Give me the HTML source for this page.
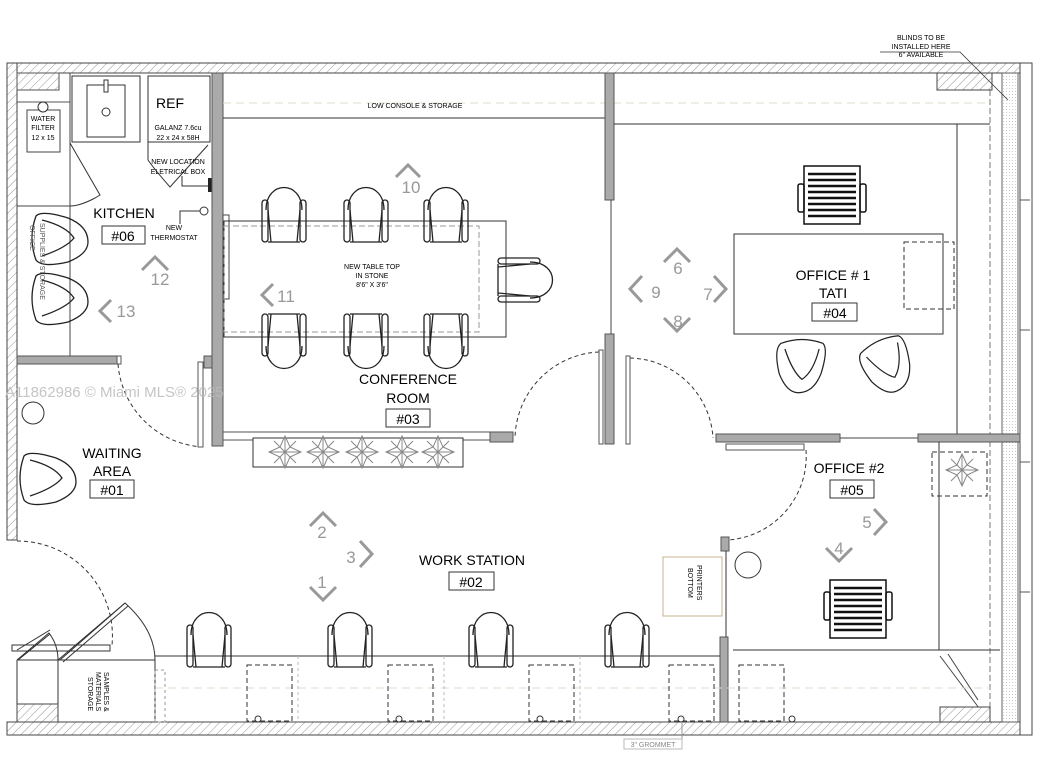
<!DOCTYPE html>
<html><head><meta charset="utf-8"><style>
html,body{margin:0;padding:0;background:#fff}
svg{display:block}
text{font-family:"Liberation Sans",sans-serif}
</style></head><body>
<svg width="1045" height="781" viewBox="0 0 1045 781" xmlns="http://www.w3.org/2000/svg">
<defs>
<pattern id="h" width="6" height="6" patternUnits="userSpaceOnUse" patternTransform="rotate(45)">
<rect width="6" height="6" fill="#fff"/><line x1="0" y1="0" x2="0" y2="6" stroke="#999" stroke-width="1"/></pattern>
<pattern id="d" width="3" height="3" patternUnits="userSpaceOnUse"><rect width="3" height="3" fill="#fff"/><circle cx="1.5" cy="1.5" r="0.5" fill="#bbb"/></pattern>
<g id="ch" fill="none" stroke="#222" stroke-width="1.3">
<path d="M-18 0 C-18 -30 18 -30 18 0"/>
<rect x="-22" y="-10" width="6" height="42" rx="3"/>
<rect x="16" y="-10" width="6" height="42" rx="3"/>
<path d="M-16 32 L16 32 M-16 0 L-13 32 M16 0 L13 32"/>
</g>
<g id="ex" fill="none" stroke="#111" stroke-width="1.5">
<rect x="-28" y="-30" width="56" height="58" fill="#fff"/>
<path d="M-24 -22 H24 M-24 -16 H24 M-24 -10 H24 M-24 -4 H24 M-24 2 H24 M-24 8 H24 M-24 14 H24 M-24 20 H24" stroke-width="2.5"/>
<rect x="-34" y="-18" width="6" height="28" rx="2"/><rect x="28" y="-18" width="6" height="28" rx="2"/>
</g>
<g id="lc" fill="none" stroke="#222" stroke-width="1.3">
<path d="M-22 -26 Q0 -34 22 -26 Q28 -20 20 6 Q12 26 -4 26 Q-16 26 -24 6 Q-30 -20 -22 -26 Z"/>
<path d="M-18 -20 Q-10 4 0 12 Q12 4 18 -20"/>
</g>
<g id="pl" fill="none" stroke="#888" stroke-width="1">
<path d="M0 -16 L0 16 M-16 0 L16 0 M-11 -11 L11 11 M-11 11 L11 -11 M0 -16 L5 -5 L16 0 L5 5 L0 16 L-5 5 L-16 0 L-5 -5 Z"/>
</g>
</defs>

<!-- outer walls -->
<rect x="7" y="63" width="1025" height="10" fill="url(#h)" stroke="#444"/>
<rect x="7" y="63" width="10" height="477" fill="url(#h)" stroke="#444"/>
<rect x="7" y="722" width="1025" height="13" fill="url(#h)" stroke="#444"/>
<rect x="1020" y="63" width="12" height="672" fill="#fff" stroke="#444"/>
<rect x="1002" y="73" width="16" height="649" fill="url(#d)" stroke="#666"/>
<line x1="990" y1="90" x2="990" y2="722" stroke="#777" stroke-dasharray="6,3"/>
<rect x="937" y="73" width="55" height="17" fill="url(#h)" stroke="#444"/>
<path d="M1020 200 h10 M1020 330 h10 M1020 462 h10 M1020 592 h10" stroke="#555"/>
<line x1="7" y1="540" x2="17" y2="540" stroke="#444"/>

<!-- blinds note -->
<text x="921" y="40" font-size="7" text-anchor="middle">BLINDS TO BE</text>
<text x="921" y="49" font-size="7" text-anchor="middle">INSTALLED HERE</text>
<text x="921" y="57" font-size="7" text-anchor="middle">6" AVAILABLE</text>
<path d="M880 52 H960 L1008 100" fill="none" stroke="#333" stroke-width="0.8"/>

<!-- kitchen -->
<rect x="17" y="73" width="42" height="17" fill="url(#h)" stroke="#555"/>
<line x1="17" y1="102" x2="70" y2="102" stroke="#555"/>
<line x1="70" y1="73" x2="70" y2="356" stroke="#444"/>
<line x1="17" y1="206" x2="70" y2="206" stroke="#444"/>
<rect x="27" y="110" width="33" height="42" fill="#fff" stroke="#444"/>
<circle cx="43" cy="107" r="5" fill="#fff" stroke="#333"/>
<text x="43" y="121" font-size="7" text-anchor="middle">WATER</text>
<text x="43" y="130" font-size="7" text-anchor="middle">FILTER</text>
<text x="43" y="140" font-size="7" text-anchor="middle">12 x 15</text>
<rect x="72" y="76" width="68" height="66" fill="#fff" stroke="#333"/>
<rect x="87" y="85" width="38" height="52" fill="#fff" stroke="#333"/>
<circle cx="106" cy="112" r="4" fill="none" stroke="#333"/>
<rect x="104" y="80" width="4" height="12" fill="#fff" stroke="#333"/>
<rect x="148" y="76" width="62" height="66" fill="#fff" stroke="#333"/>
<path d="M148 142 L148 160 Q155 170 170 187 L208 145" fill="none" stroke="#333"/>
<path d="M70 143 L100 195 L95 198 Q80 206 70 206" fill="none" stroke="#333"/>
<text x="156" y="108" font-size="14">REF</text>
<text x="178" y="130" font-size="7" text-anchor="middle">GALANZ 7.6cu</text>
<text x="178" y="140" font-size="7" text-anchor="middle">22 x 24 x 58H</text>
<text x="178" y="164" font-size="7" text-anchor="middle">NEW LOCATION</text>
<text x="178" y="174" font-size="7" text-anchor="middle">ELETRICAL BOX</text>
<path d="M182 176 V186 H208" fill="none" stroke="#333"/>
<rect x="208" y="178" width="6" height="14" fill="#222"/>
<circle cx="204" cy="211" r="4" fill="#fff" stroke="#333"/>
<path d="M200 211 H180 V224" fill="none" stroke="#333"/>
<text x="174" y="230" font-size="7" text-anchor="middle">NEW</text>
<text x="174" y="240" font-size="7" text-anchor="middle">THERMOSTAT</text>
<text x="124" y="218" font-size="14" text-anchor="middle">KITCHEN</text>
<rect x="102" y="226" width="43" height="18" fill="#fff" stroke="#333"/>
<text x="123" y="241" font-size="14" text-anchor="middle">#06</text>
<use href="#lc" transform="translate(62,238) rotate(-90)"/>
<use href="#lc" transform="translate(62,298) rotate(-90)"/>
<text transform="translate(30,225) rotate(90)" font-size="7" fill="#555">OFFICE</text>
<text transform="translate(40,223) rotate(90)" font-size="7" fill="#555">SUPPLIES &amp; STORAGE</text>

<!-- kitchen/waiting wall -->
<rect x="17" y="356" width="100" height="8" fill="#aaa" stroke="#555"/>
<rect x="117" y="356" width="4" height="8" fill="#fff" stroke="#555"/>
<path d="M118 364 A90 90 0 0 0 205 447" fill="none" stroke="#333" stroke-dasharray="4,3"/>
<rect x="198" y="362" width="5" height="85" fill="#fff" stroke="#555"/>
<rect x="204" y="356" width="8" height="12" fill="#aaa" stroke="#555"/>

<!-- conference walls -->
<rect x="212" y="73" width="11" height="373" fill="#aaa" stroke="#555"/>
<line x1="223" y1="118" x2="605" y2="118" stroke="#333"/>
<line x1="223" y1="103" x2="990" y2="103" stroke="#ddc" stroke-dasharray="8,5"/>
<text x="415" y="108" font-size="7" text-anchor="middle">LOW CONSOLE &amp; STORAGE</text>
<rect x="223" y="432" width="267" height="8" fill="#fff" stroke="#555"/>
<rect x="490" y="432" width="23" height="10" fill="#aaa" stroke="#555"/>
<rect x="605" y="73" width="9" height="127" fill="#aaa" stroke="#555"/>
<line x1="611" y1="200" x2="611" y2="334" stroke="#444"/>
<rect x="605" y="334" width="9" height="110" fill="#aaa" stroke="#555"/>
<rect x="599" y="350" width="4" height="94" fill="#fff" stroke="#555"/>
<rect x="626" y="356" width="4" height="88" fill="#fff" stroke="#555"/>
<path d="M599 352 A88 88 0 0 0 515 438" fill="none" stroke="#333" stroke-dasharray="4,3"/>
<path d="M630 358 A85 85 0 0 1 713 438" fill="none" stroke="#333" stroke-dasharray="4,3"/>
<rect x="223" y="215" width="6" height="84" fill="#fff" stroke="#444"/>

<!-- table -->
<rect x="224" y="221" width="282" height="116" fill="none" stroke="#333"/>
<rect x="224" y="226" width="255" height="106" fill="none" stroke="#999" stroke-dasharray="6,3"/>
<text x="372" y="269" font-size="7" text-anchor="middle">NEW TABLE TOP</text>
<text x="372" y="278" font-size="7" text-anchor="middle">IN STONE</text>
<text x="372" y="287" font-size="7" text-anchor="middle">8'6" X 3'6"</text>
<use href="#ch" transform="translate(284,210)"/>
<use href="#ch" transform="translate(366,210)"/>
<use href="#ch" transform="translate(446,210)"/>
<use href="#ch" transform="translate(284,346) rotate(180)"/>
<use href="#ch" transform="translate(366,346) rotate(180)"/>
<use href="#ch" transform="translate(446,346) rotate(180)"/>
<use href="#ch" transform="translate(530,280) rotate(90)"/>
<text x="408" y="384" font-size="14" text-anchor="middle">CONFERENCE</text>
<text x="408" y="403" font-size="14" text-anchor="middle">ROOM</text>
<rect x="386" y="409" width="44" height="18" fill="#fff" stroke="#333"/>
<text x="408" y="424" font-size="14" text-anchor="middle">#03</text>
<rect x="253" y="438" width="210" height="29" fill="#fff" stroke="#333"/>
<use href="#pl" transform="translate(285,452)"/><use href="#pl" transform="translate(323,452)"/>
<use href="#pl" transform="translate(362,452)"/><use href="#pl" transform="translate(402,452)"/>
<use href="#pl" transform="translate(438,452)"/>

<!-- office 1 -->
<line x1="614" y1="124" x2="990" y2="124" stroke="#333"/>
<line x1="957" y1="124" x2="957" y2="434" stroke="#333"/>
<use href="#ex" transform="translate(832,194) rotate(180)"/>
<rect x="734" y="234" width="209" height="100" fill="#fff" stroke="#333"/>
<rect x="904" y="242" width="50" height="67" fill="none" stroke="#333" stroke-dasharray="5,3"/>
<text x="833" y="280" font-size="14" text-anchor="middle">OFFICE # 1</text>
<text x="833" y="298" font-size="14" text-anchor="middle">TATI</text>
<rect x="812" y="303" width="45" height="18" fill="#fff" stroke="#333"/>
<text x="835" y="318" font-size="14" text-anchor="middle">#04</text>
<use href="#lc" transform="translate(802,368) scale(0.95)"/>
<use href="#lc" transform="translate(890,367) rotate(-25) scale(0.95)"/>
<rect x="716" y="434" width="124" height="8" fill="#aaa" stroke="#555"/>
<line x1="840" y1="438" x2="918" y2="438" stroke="#444"/>
<rect x="918" y="434" width="102" height="8" fill="#aaa" stroke="#555"/>
<rect x="726" y="444" width="78" height="6" fill="#fff" stroke="#555"/>
<path d="M806 450 A84 84 0 0 1 728 540" fill="none" stroke="#333" stroke-dasharray="4,3"/>

<!-- office 2 -->
<rect x="721" y="537" width="8" height="14" fill="#aaa" stroke="#555"/>
<line x1="726" y1="551" x2="726" y2="637" stroke="#333"/>
<rect x="720" y="637" width="8" height="85" fill="#aaa" stroke="#555"/>
<circle cx="748" cy="565" r="13" fill="#fff" stroke="#333"/>
<text x="849" y="473" font-size="14" text-anchor="middle">OFFICE #2</text>
<rect x="830" y="480" width="44" height="18" fill="#fff" stroke="#333"/>
<text x="852" y="495" font-size="14" text-anchor="middle">#05</text>
<rect x="932" y="452" width="55" height="44" fill="none" stroke="#333" stroke-dasharray="5,3"/>
<use href="#pl" transform="translate(962,470)"/>
<line x1="939" y1="442" x2="939" y2="650" stroke="#333"/>
<use href="#ex" transform="translate(858,610)"/>
<line x1="733" y1="650" x2="1000" y2="650" stroke="#333"/>
<path d="M940 656 L982 712 M948 654 L978 700" stroke="#444"/>
<rect x="940" y="707" width="50" height="15" fill="url(#h)" stroke="#444"/>
<rect x="739" y="665" width="45" height="56" fill="none" stroke="#333" stroke-dasharray="5,3"/>
<circle cx="792" cy="719" r="3" fill="#fff" stroke="#333"/>

<!-- printers -->
<rect x="663" y="557" width="59" height="59" fill="#fff" stroke="#c8b090"/>
<text transform="translate(697,565) rotate(90)" font-size="7">PRINTERS</text>
<text transform="translate(688,568) rotate(90)" font-size="7">BOTTOM</text>

<!-- waiting -->
<circle cx="33" cy="413" r="11" fill="#fff" stroke="#333"/>
<use href="#lc" transform="translate(50,478) rotate(-90)"/>
<text x="112" y="458" font-size="14" text-anchor="middle">WAITING</text>
<text x="112" y="476" font-size="14" text-anchor="middle">AREA</text>
<rect x="90" y="480" width="44" height="18" fill="#fff" stroke="#333"/>
<text x="112" y="495" font-size="14" text-anchor="middle">#01</text>
<path d="M17 541 A95 95 0 0 1 112 645" fill="none" stroke="#333" stroke-dasharray="4,3"/>

<!-- bottom left storage -->
<rect x="12" y="645" width="98" height="6" fill="#fff" stroke="#333"/>
<path d="M17 650 L50 630 M18 660 L50 634" stroke="#333"/>
<path d="M17 660 V722 M17 660 L49 633 Q58 645 58 660 M58 660 L125 603 Q155 630 155 660 M58 660 V722 M17 660 H155" fill="none" stroke="#333"/>
<path d="M60 660 L125 603 M63 662 L128 606" stroke="#333"/>
<rect x="17" y="704" width="41" height="18" fill="url(#h)" stroke="#444"/>
<text transform="translate(104,672) rotate(90)" font-size="7">SAMPLES &amp;</text>
<text transform="translate(96,672) rotate(90)" font-size="7">MATERIALS</text>
<text transform="translate(88,677) rotate(90)" font-size="7">STORAGE</text>
<line x1="155" y1="660" x2="155" y2="722" stroke="#333"/>

<!-- workstation -->
<line x1="155" y1="656" x2="720" y2="656" stroke="#333"/>
<line x1="155" y1="688" x2="990" y2="688" stroke="#ddc" stroke-dasharray="8,5"/>
<path d="M298 656 V722 M444 656 V722 M580 656 V722" stroke="#bbb" stroke-dasharray="3,3"/>
<rect x="155" y="670" width="10" height="52" fill="none" stroke="#999" stroke-dasharray="3,3"/>
<g fill="none" stroke="#333" stroke-dasharray="5,3">
<rect x="247" y="665" width="45" height="56"/><rect x="388" y="665" width="45" height="56"/>
<rect x="529" y="665" width="45" height="56"/><rect x="669" y="665" width="45" height="56"/>
</g>
<g fill="#fff" stroke="#333"><circle cx="258" cy="719" r="3"/><circle cx="399" cy="719" r="3"/><circle cx="540" cy="719" r="3"/><circle cx="681" cy="719" r="3"/></g>
<use href="#ch" transform="translate(209,635)"/>
<use href="#ch" transform="translate(350,635)"/>
<use href="#ch" transform="translate(491,635)"/>
<use href="#ch" transform="translate(627,635)"/>
<text x="472" y="565" font-size="14" text-anchor="middle">WORK STATION</text>
<rect x="449" y="572" width="45" height="18" fill="#fff" stroke="#333"/>
<text x="471" y="587" font-size="14" text-anchor="middle">#02</text>
<line x1="682" y1="722" x2="682" y2="740" stroke="#999"/>
<rect x="624" y="739" width="58" height="10" fill="#fff" stroke="#bbb"/>
<text x="653" y="747" font-size="7" fill="#888" text-anchor="middle">3" GROMMET</text>

<!-- view markers -->
<g fill="none" stroke="#999" stroke-width="3">
<path d="M396 177 L408 165 L420 177"/>
<path d="M142 270 L155 257 L168 270"/>
<path d="M111 300 L100 311 L111 322"/>
<path d="M273 284 L262 295 L273 306"/>
<path d="M642 276 L630 289 L642 302"/>
<path d="M664 262 L677 249 L690 262"/>
<path d="M664 318 L677 331 L690 318"/>
<path d="M714 276 L726 289 L714 302"/>
<path d="M310 526 L323 513 L336 526"/>
<path d="M310 587 L323 600 L336 587"/>
<path d="M360 541 L372 554 L360 567"/>
<path d="M826 548 L839 561 L852 548"/>
<path d="M874 509 L886 522 L874 535"/>
</g>
<g font-size="17" fill="#999" text-anchor="middle">
<text x="411" y="193">10</text><text x="160" y="285">12</text><text x="126" y="317">13</text>
<text x="286" y="302">11</text><text x="656" y="298">9</text><text x="678" y="274">6</text>
<text x="678" y="327">8</text><text x="708" y="300">7</text><text x="322" y="538">2</text>
<text x="322" y="588">1</text><text x="351" y="563">3</text><text x="839" y="554">4</text>
<text x="867" y="528">5</text>
</g>

<!-- watermark -->
<text x="5" y="397" font-size="15" fill="#bbb" opacity="0.85">A11862986 © Miami MLS® 2025</text>
</svg>
</body></html>
